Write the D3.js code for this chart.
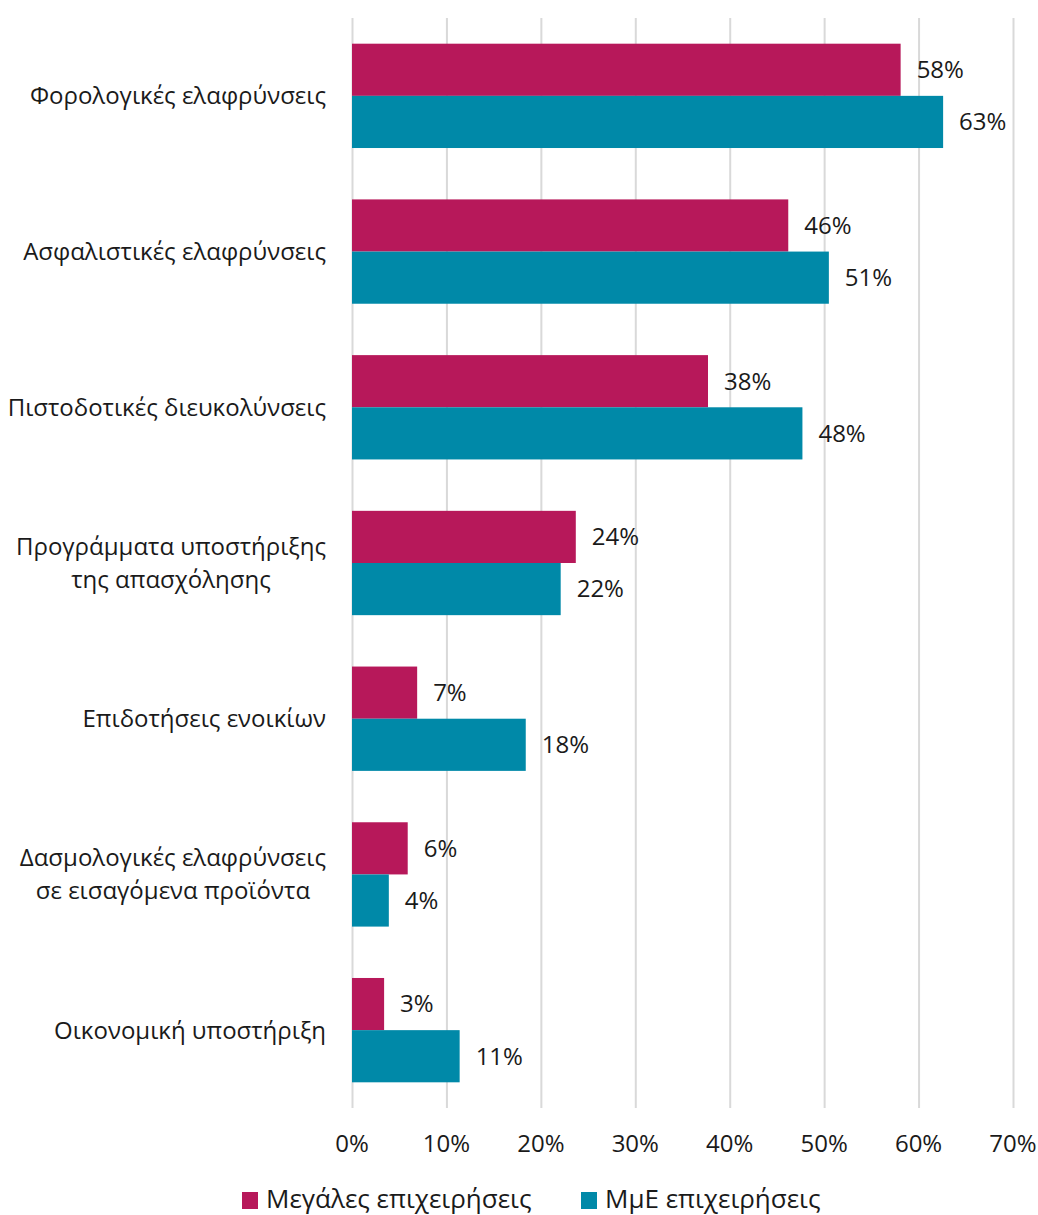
<!DOCTYPE html>
<html lang="el">

<head>
  <meta charset="utf-8">
  <title>Chart</title>
  <style>
    body {
      margin: 0;
      background: #fff;
      font-family: "Open Sans", "Noto Sans", sans-serif;
    }

    .grid line {
      stroke: #d9d9d9;
      stroke-width: 2;
    }

    .grid path {
      display: none;
    }

    text {
      fill: #1a1a1a;
    }
  </style>
</head>

<body>
  <div id="chart"></div>
</body>
<script src="https://d3js.org/d3.v7.min.js"></script>

<script>

  let categories = [
    ["Φορολογικές ελαφρύνσεις"],
    ["Ασφαλιστικές ελαφρύνσεις"],
    ["Πιστοδοτικές διευκολύνσεις"],
    ["Προγράμματα υποστήριξης", "της απασχόλησης"],
    ["Επιδοτήσεις ενοικίων"],
    ["Δασμολογικές ελαφρύνσεις", "σε εισαγόμενα προϊόντα"],
    ["Οικονομική υποστήριξη"]
  ];
  let seriesNames = ["Μεγάλες επιχειρήσεις", "ΜμΕ επιχειρήσεις"];
  let large = [58.1, 46.2, 37.7, 23.7, 6.9, 5.9, 3.4];
  let sme = [62.6, 50.5, 47.7, 22.1, 18.4, 3.9, 11.4];
  let largeLabels = ["58%", "46%", "38%", "24%", "7%", "6%", "3%"];
  let smeLabels = ["63%", "51%", "48%", "22%", "18%", "4%", "11%"];
  let ticks = [0, 10, 20, 30, 40, 50, 60, 70];
  let colors = ["#b7185a", "#0089a8"];

  let W = 1038, H = 1215;
  let plotL = 352, plotR = 1013, plotT = 18, plotB = 1108;

  let svg = d3.select("#chart").append("svg")
    .attr("width", W)
    .attr("height", H);

  let x = d3.scaleLinear().domain([0, 70]).range([plotL, plotR]);
  let idx = categories.map((d, i) => i);
  let y = d3.scaleBand().domain(idx).range([plotT, plotB])
    .paddingInner(0.33).paddingOuter(0.165);
  let y1 = d3.scaleBand().domain([0, 1]).range([0, y.bandwidth()]);

  // grid
  svg.append("g")
    .attr("class", "grid")
    .attr("transform", "translate(0," + plotB + ")")
    .call(d3.axisBottom(x).tickValues(ticks).tickSize(0).tickFormat(""))
    .call(g => g.selectAll("line").attr("y2", -(plotB - plotT)));

  // x tick labels
  svg.append("g")
    .selectAll("text")
    .data(ticks)
    .enter()
    .append("text")
    .attr("x", d => x(d))
    .attr("y", 1152)
    .attr("text-anchor", "middle")
    .style("font-size", "24px")
    .text(d => d + "%");

  let rows = idx.map(i => ({ i: i, vals: [large[i], sme[i]], labs: [largeLabels[i], smeLabels[i]] }));

  let grp = svg.selectAll(".row")
    .data(rows)
    .enter()
    .append("g")
    .attr("class", "row")
    .attr("transform", d => "translate(0," + y(d.i) + ")");

  grp.selectAll("rect")
    .data(d => d.vals.map((v, k) => ({ v: v, k: k })))
    .enter()
    .append("rect")
    .attr("x", x(0))
    .attr("y", d => y1(d.k))
    .attr("width", d => x(d.v) - x(0))
    .attr("height", y1.bandwidth())
    .attr("fill", d => colors[d.k]);

  grp.selectAll(".val")
    .data(d => d.vals.map((v, k) => ({ v: v, k: k, lab: d.labs[k] })))
    .enter()
    .append("text")
    .attr("class", "val")
    .attr("x", d => x(d.v) + 16)
    .attr("y", d => y1(d.k) + y1.bandwidth() / 2)
    .attr("dy", "0.35em")
    .style("font-size", "24px")
    .text(d => d.lab);

  // category labels (wrapped lines centred under the first line)
  let labelRight = 326, lineH = 33;
  rows.forEach(r => {
    let lines = categories[r.i];
    let cy = y(r.i) + y.bandwidth() / 2 + 8.4 - (lines.length - 1) * lineH / 2;
    let first = svg.append("text")
      .attr("text-anchor", "end")
      .attr("x", labelRight)
      .attr("y", cy)
      .style("font-size", "24px")
      .text(lines[0]);
    let mid = labelRight - first.node().getComputedTextLength() / 2;
    lines.slice(1).forEach((t, j) => {
      svg.append("text")
        .attr("text-anchor", "middle")
        .attr("x", mid)
        .attr("y", cy + (j + 1) * lineH)
        .style("font-size", "24px")
        .text(t);
    });
  });

  // legend
  let legX = [242, 581];
  let leg = svg.selectAll(".leg")
    .data(seriesNames)
    .enter()
    .append("g")
    .attr("transform", (d, i) => "translate(" + legX[i] + ",1192)");

  leg.append("rect")
    .attr("width", 16)
    .attr("height", 17)
    .attr("fill", (d, i) => colors[i]);

  leg.append("text")
    .attr("x", 24)
    .attr("y", 16)
    .style("font-size", "26px")
    .text(d => d);

</script>
